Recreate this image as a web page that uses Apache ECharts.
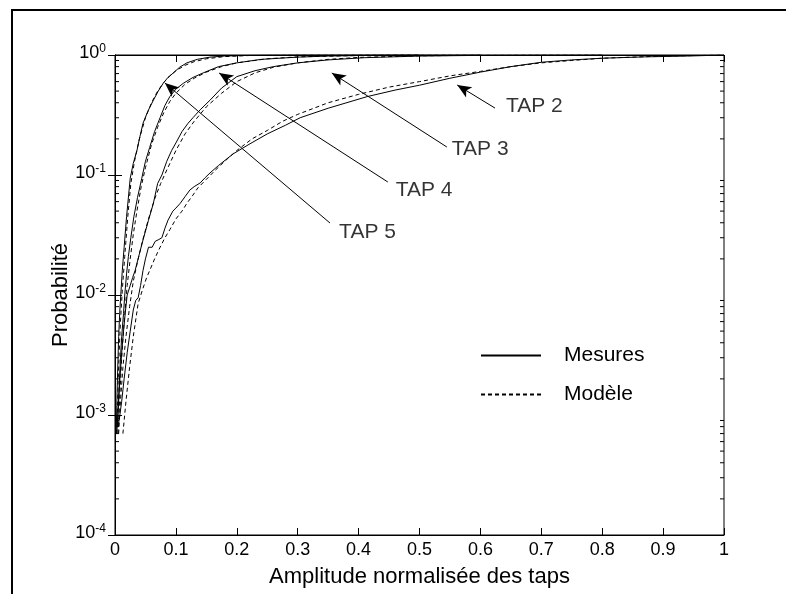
<!DOCTYPE html>
<html><head><meta charset="utf-8">
<script src="https://cdn.jsdelivr.net/npm/echarts@6/dist/echarts.min.js"></script>
<style>html,body{margin:0;padding:0;background:#fff}#c{width:786px;height:594px}</style>
</head><body><div id="c"></div>
<script>
// ---- data ----
const xTicks = [0,0.1,0.2,0.3,0.4,0.5,0.6,0.7,0.8,0.9,1];
const yMinorTicks = [2e-4,3e-4,4e-4,5e-4,6e-4,7e-4,8e-4,9e-4,2e-3,3e-3,4e-3,5e-3,6e-3,7e-3,8e-3,9e-3,0.02,0.03,0.04,0.05,0.06,0.07,0.08,0.09,0.2,0.3,0.4,0.5,0.6,0.7,0.8,0.9];

const tap5MesX = [0.002,0.003,0.004,0.005,0.006,0.008,0.010,0.012,0.015,0.019,0.025,0.030,0.036,0.041,0.046,0.054,0.063,0.071,0.079,0.087,0.096,0.106,0.118,0.135,0.156,0.18,0.21,0.25,0.3,0.4,0.5];
const tap5MesP = [0.0007,0.0012,0.002,0.003,0.0045,0.0075,0.011,0.016,0.025,0.045,0.094,0.125,0.16,0.21,0.27,0.34,0.42,0.5,0.58,0.65,0.71,0.79,0.86,0.92,0.96,0.98,0.99,0.996,0.999,1,1];
const tap5ModX = [0.003,0.005,0.007,0.009,0.012,0.016,0.021,0.026,0.032,0.04,0.05,0.06,0.07,0.08,0.09,0.1,0.115,0.13,0.15,0.18,0.22,0.3,0.5];
const tap5ModP = [0.0007,0.0018,0.0035,0.006,0.011,0.021,0.045,0.085,0.13,0.2,0.3,0.4,0.5,0.59,0.67,0.74,0.82,0.88,0.93,0.97,0.99,0.998,1];

const tap4MesX = [0.003,0.005,0.007,0.009,0.011,0.014,0.016,0.019,0.022,0.026,0.031,0.037,0.044,0.05,0.057,0.065,0.074,0.082,0.09,0.1,0.112,0.128,0.145,0.17,0.2,0.24,0.3,0.35,0.4,0.5,0.6];
const tap4MesP = [0.0007,0.0011,0.0018,0.003,0.0045,0.007,0.01,0.015,0.021,0.03,0.045,0.065,0.094,0.13,0.17,0.23,0.3,0.38,0.45,0.52,0.58,0.65,0.71,0.8,0.86,0.92,0.96,0.98,0.99,0.998,1];
const tap4ModX = [0.005,0.008,0.011,0.015,0.02,0.025,0.03,0.036,0.043,0.05,0.06,0.07,0.08,0.09,0.1,0.115,0.13,0.15,0.175,0.2,0.25,0.3,0.4,0.5,0.6];
const tap4ModP = [0.0007,0.0015,0.003,0.006,0.012,0.02,0.032,0.05,0.08,0.115,0.18,0.25,0.33,0.41,0.48,0.57,0.64,0.72,0.8,0.86,0.93,0.965,0.99,0.998,1];

const tap3MesX = [0.004,0.006,0.008,0.011,0.014,0.017,0.02,0.025,0.029,0.033,0.04,0.047,0.055,0.063,0.07,0.077,0.085,0.093,0.1,0.11,0.12,0.128,0.14,0.156,0.175,0.2,0.23,0.26,0.3,0.35,0.41,0.5,0.6,0.7,0.8];
const tap3MesP = [0.0008,0.0013,0.002,0.0033,0.005,0.0072,0.01,0.012,0.014,0.016,0.022,0.03,0.042,0.058,0.085,0.1,0.13,0.16,0.185,0.23,0.27,0.3,0.35,0.42,0.53,0.66,0.74,0.8,0.86,0.91,0.95,0.98,0.993,0.998,1];
const tap3ModX = [0.006,0.009,0.013,0.018,0.024,0.03,0.037,0.045,0.055,0.065,0.075,0.085,0.1,0.115,0.13,0.15,0.175,0.2,0.23,0.26,0.3,0.35,0.4,0.5,0.6,0.7,0.8];
const tap3ModP = [0.0007,0.0013,0.0025,0.0045,0.008,0.013,0.019,0.028,0.043,0.063,0.085,0.11,0.16,0.22,0.28,0.37,0.48,0.6,0.71,0.79,0.86,0.92,0.955,0.985,0.995,0.999,1];

const tap2MesX = [0.005,0.008,0.011,0.015,0.02,0.025,0.03,0.034,0.038,0.042,0.046,0.05,0.055,0.061,0.066,0.072,0.077,0.082,0.087,0.095,0.1,0.107,0.115,0.123,0.13,0.14,0.148,0.156,0.17,0.194,0.22,0.25,0.28,0.304,0.35,0.414,0.46,0.5,0.55,0.6,0.65,0.7,0.75,0.8,0.87,0.94,0.97,1.0];
const tap2MesP = [0.0008,0.001,0.0013,0.002,0.0033,0.005,0.0075,0.009,0.0095,0.012,0.016,0.02,0.025,0.025,0.028,0.029,0.03,0.036,0.042,0.05,0.053,0.058,0.066,0.075,0.08,0.086,0.095,0.104,0.12,0.15,0.18,0.22,0.26,0.3,0.36,0.45,0.51,0.56,0.64,0.72,0.8,0.87,0.91,0.94,0.965,0.98,0.99,1];
const tap2ModX = [0.013,0.018,0.024,0.03,0.038,0.045,0.052,0.057,0.065,0.074,0.082,0.09,0.1,0.11,0.118,0.128,0.136,0.15,0.165,0.18,0.2,0.225,0.25,0.275,0.3,0.35,0.4,0.45,0.5,0.55,0.6,0.65,0.7,0.75,0.8,0.85,0.9,0.95,1.0];
const tap2ModP = [0.0007,0.0013,0.0025,0.0045,0.0085,0.011,0.014,0.016,0.02,0.025,0.03,0.035,0.043,0.05,0.058,0.068,0.078,0.092,0.11,0.13,0.16,0.2,0.235,0.28,0.32,0.4,0.47,0.54,0.6,0.67,0.73,0.8,0.86,0.9,0.94,0.96,0.98,0.99,1];

// annotations: label anchor and arrow tail/tip in data coordinates
const annotLabels = ['TAP 2','TAP 3','TAP 4','TAP 5'];
const annotTextX = [0.642,0.553,0.461,0.368];
const annotTextP = [0.376,0.165,0.075,0.0335];
const annotTailX = [0.624,0.545,0.448,0.353];
const annotTailP = [0.361,0.171,0.0874,0.0398];
const annotTipX  = [0.562,0.356,0.171,0.082];
const annotTipP  = [0.562,0.708,0.708,0.584];

const legendNames = ['Mesures','Modèle'];
const axisTitleX = 'Amplitude normalisée des taps';
const axisTitleY = 'Probabilité';

// ---- chart ----
const FONT = 'Liberation Sans, Arial, sans-serif';
const zip = (xs, ps) => xs.map((x, i) => [x, ps[i]]);
const curves = [
  [tap2MesX, tap2MesP, tap2ModX, tap2ModP],
  [tap3MesX, tap3MesP, tap3ModX, tap3ModP],
  [tap4MesX, tap4MesP, tap4ModX, tap4ModP],
  [tap5MesX, tap5MesP, tap5ModX, tap5ModP]
];
const series = [];
curves.forEach(c => {
  series.push({type:'line', name:legendNames[0], data:zip(c[0], c[1]), showSymbol:false, symbol:'none',
    lineStyle:{color:'#000', width:1, type:'solid'}, itemStyle:{color:'rgba(0,0,0,0)'}, z:3});
  series.push({type:'line', name:legendNames[1], data:zip(c[2], c[3]), showSymbol:false, symbol:'none',
    lineStyle:{color:'#000', width:1, type:[4,3]}, itemStyle:{color:'rgba(0,0,0,0)'}, z:3});
});
// minor ticks (log axis, 2..9 per decade) on left and right edges
series.push({
  type:'custom', name:'minor', silent:true, clip:false, z:5,
  data: yMinorTicks.map(v => [0, v]),
  encode:{x:0, y:1},
  renderItem: (params, api) => {
    const v = api.value(1);
    const l = api.coord([0, v]);
    const r = api.coord([1, v]);
    const st = {stroke:'#000', lineWidth:1};
    return {type:'group', children:[
      {type:'line', shape:{x1:l[0], y1:l[1], x2:l[0]+4, y2:l[1]}, style:st},
      {type:'line', shape:{x1:r[0], y1:r[1], x2:r[0]-4, y2:r[1]}, style:st}
    ]};
  }
});
// annotation labels with arrows
series.push({
  type:'scatter', name:'annot', symbolSize:0, silent:true, z:6,
  data: annotLabels.map((n, i) => ({name:n, value:[annotTextX[i], annotTextP[i]]})),
  label:{show:true, position:'right', distance:0, formatter:'{b}', color:'#000', fontSize:21, fontFamily:FONT},
  markLine:{
    silent:true, symbol:['none','arrow'], symbolSize:[9,14],
    lineStyle:{color:'#000', width:1, type:'solid'}, label:{show:false},
    data: annotLabels.map((n, i) => [
      {coord:[annotTailX[i], annotTailP[i]]},
      {coord:[annotTipX[i], annotTipP[i]]}
    ])
  }
});

const axLine = {show:true, lineStyle:{color:'#000', width:1}};
const option = {
  animation:false,
  backgroundColor:'#fff',
  textStyle:{fontFamily:FONT},
  grid:{left:115, right:62, top:55, bottom:59, show:true, borderColor:'#000', borderWidth:1},
  legend:{
    data:legendNames, orient:'vertical', left:480, top:345, padding:0, itemWidth:60, itemHeight:14, itemGap:18,
    itemStyle:{color:'rgba(0,0,0,0)', borderWidth:0},
    textStyle:{fontSize:21, color:'#000', fontFamily:FONT, padding:[0,0,0,18]}, selectedMode:false
  },
  graphic:[{type:'rect', shape:{x:12, y:10, width:820, height:640}, style:{fill:'none', stroke:'#000', lineWidth:2}, silent:true}],
  xAxis:[
    {type:'value', min:0, max:1, interval:0.1, position:'bottom',
     axisLine:axLine, axisTick:{inside:true, length:7, lineStyle:{color:'#000'}},
     splitLine:{show:false},
     axisLabel:{color:'#000', fontSize:18, margin:6, fontFamily:FONT,
       formatter: v => { const t = xTicks.find(k => Math.abs(k - v) < 1e-9); return t === undefined ? '' : String(t); }},
     name:axisTitleX, nameLocation:'middle', nameGap:31,
     nameTextStyle:{color:'#000', fontSize:22, fontFamily:FONT}},
    {type:'value', min:0, max:1, interval:0.1, position:'top',
     axisLine:axLine, axisTick:{inside:true, length:7, lineStyle:{color:'#000'}},
     splitLine:{show:false}, axisLabel:{show:false}}
  ],
  yAxis:[
    {type:'log', logBase:10, min:1e-4, max:1, splitNumber:4, position:'left',
     axisLine:axLine, axisTick:{inside:true, length:7, lineStyle:{color:'#000'}},
     splitLine:{show:false},
     axisLabel:{color:'#000', margin:9, padding:[0,0,5,0],
       formatter: v => '{b|10}{s|' + Math.round(Math.log10(v)) + '}',
       rich:{
         b:{fontSize:18, lineHeight:20, verticalAlign:'bottom', color:'#000', fontFamily:FONT},
         s:{fontSize:12, lineHeight:20, verticalAlign:'top', color:'#000', fontFamily:FONT}
       }},
     name:axisTitleY, nameLocation:'middle', nameGap:43, nameMoveOverlap:false,
     nameTextStyle:{color:'#000', fontSize:22, fontFamily:FONT}},
    {type:'log', logBase:10, min:1e-4, max:1, splitNumber:4, position:'right',
     axisLine:axLine, axisTick:{inside:true, length:7, lineStyle:{color:'#000'}},
     splitLine:{show:false}, axisLabel:{show:false}}
  ],
  series: series
};
const chart = echarts.init(document.getElementById('c'), null, {renderer:'canvas'});
chart.setOption(option);
</script>
</body></html>
